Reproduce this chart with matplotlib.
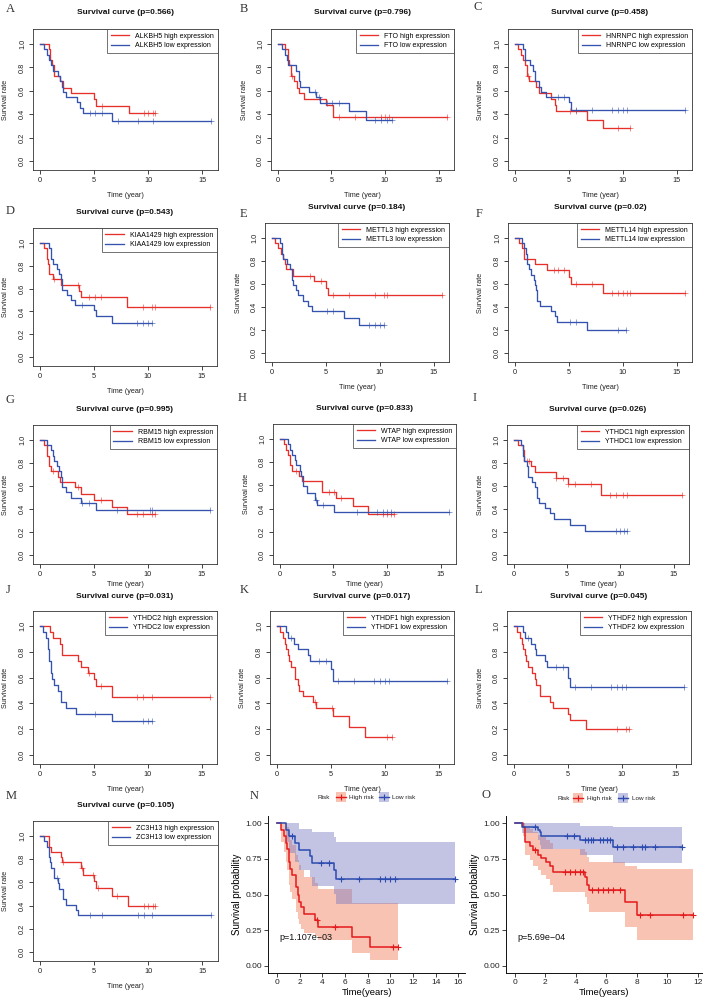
import matplotlib
matplotlib.use('Agg')
import matplotlib.pyplot as plt
from matplotlib.lines import Line2D
from matplotlib.patches import Rectangle

# ---------------- data ----------------
A_hi_t = [0.8, 0.93, 1.1, 1.3, 1.9, 2.1, 2.9, 5.0, 5.2, 8.2]
A_hi_s = [0.955, 0.864, 0.818, 0.727, 0.682, 0.627, 0.578, 0.527, 0.474, 0.406]
A_hi_c = [5.7, 9.6, 10.0, 10.4, 10.65]
A_lo_t = [0.4, 0.7, 0.87, 1.0, 1.2, 1.65, 1.85, 2.0, 2.1, 2.4, 3.4, 3.75, 3.95, 6.7]
A_lo_s = [0.955, 0.909, 0.864, 0.818, 0.773, 0.727, 0.682, 0.636, 0.591, 0.545, 0.5, 0.455, 0.409, 0.341]
A_lo_c = [4.6, 5.1, 5.7, 7.2, 9.05, 10.4, 15.75]

B_hi_t = [0.7, 0.93, 1.08, 1.23, 1.54, 1.76, 1.94, 2.4, 4.5, 5.17]
B_hi_s = [0.955, 0.864, 0.818, 0.727, 0.682, 0.627, 0.578, 0.533, 0.48, 0.377]
B_hi_c = [1.35, 5.7, 7.2, 9.6, 10.0, 10.4, 15.75]
B_lo_t = [0.35, 0.7, 0.83, 1.0, 1.7, 1.94, 2.1, 2.9, 3.6, 3.9, 6.66, 8.22]
B_lo_s = [0.955, 0.909, 0.864, 0.818, 0.773, 0.682, 0.636, 0.591, 0.545, 0.495, 0.424, 0.353]
B_lo_c = [3.5, 3.8, 4.6, 5.1, 5.7, 9.05, 9.6, 10.2, 10.65]

C_hi_t = [0.32, 0.62, 0.76, 0.93, 1.1, 1.3, 2.0, 2.2, 3.4, 3.7, 3.85, 6.66, 8.22]
C_hi_s = [0.955, 0.909, 0.864, 0.818, 0.727, 0.682, 0.636, 0.582, 0.533, 0.478, 0.425, 0.354, 0.283]
C_hi_c = [1.25, 5.1, 5.7, 9.6, 10.65]
C_lo_t = [0.8, 0.9, 1.4, 1.65, 1.9, 2.2, 2.4, 2.9, 5.0, 5.2]
C_lo_s = [0.955, 0.864, 0.818, 0.773, 0.682, 0.636, 0.591, 0.545, 0.5, 0.435]
C_lo_c = [4.0, 4.6, 5.7, 7.2, 9.05, 9.6, 10.0, 10.4, 15.75]

D_hi_t = [0.35, 0.65, 0.77, 0.86, 1.27, 2.0, 3.65, 3.8, 8.1]
D_hi_s = [0.955, 0.864, 0.818, 0.727, 0.682, 0.633, 0.58, 0.525, 0.437]
D_hi_c = [1.3, 3.5, 4.6, 5.1, 5.7, 9.6, 10.4, 10.65, 15.75]
D_lo_t = [0.86, 1.0, 1.2, 1.6, 1.8, 1.95, 2.1, 2.5, 2.9, 3.3, 5.0, 5.2, 6.7]
D_lo_s = [0.955, 0.864, 0.818, 0.773, 0.727, 0.682, 0.59, 0.545, 0.5, 0.455, 0.41, 0.364, 0.30]
D_lo_c = [3.95, 9.05, 9.6, 10.0, 10.4]

E_hi_t = [0.3, 0.6, 0.84, 1.0, 1.2, 1.3, 2.0, 3.9, 5.0, 5.2]
E_hi_s = [0.955, 0.909, 0.864, 0.818, 0.773, 0.727, 0.673, 0.625, 0.568, 0.5]
E_hi_c = [3.55, 4.6, 5.7, 7.2, 9.6, 10.4, 10.65, 15.75]
E_lo_t = [0.77, 0.93, 1.08, 1.4, 1.7, 1.86, 2.0, 2.2, 2.4, 2.9, 3.4, 3.7, 6.65, 8.1]
E_lo_s = [0.955, 0.864, 0.818, 0.773, 0.727, 0.636, 0.591, 0.545, 0.5, 0.455, 0.409, 0.364, 0.303, 0.243]
E_lo_c = [5.1, 5.7, 9.05, 9.6, 10.0, 10.4]

F_hi_t = [0.4, 0.7, 0.84, 1.86, 2.95, 5.05, 5.2, 8.2]
F_hi_s = [0.955, 0.909, 0.818, 0.773, 0.724, 0.66, 0.60, 0.525]
F_hi_c = [1.15, 3.6, 4.0, 4.6, 5.7, 7.2, 9.05, 9.6, 10.0, 10.4, 10.65, 15.75]
F_lo_t = [0.7, 0.84, 1.0, 1.15, 1.33, 1.46, 1.77, 1.9, 2.0, 2.1, 2.3, 3.35, 3.7, 3.9, 6.7]
F_lo_s = [0.955, 0.909, 0.864, 0.773, 0.727, 0.682, 0.636, 0.591, 0.545, 0.455, 0.409, 0.364, 0.318, 0.267, 0.203]
F_lo_c = [5.1, 5.7, 9.6, 10.3]

G_hi_t = [0.4, 0.65, 0.86, 1.0, 1.7, 1.9, 3.3, 3.8, 5.0, 6.7, 8.1]
G_hi_s = [0.955, 0.864, 0.773, 0.727, 0.682, 0.633, 0.59, 0.53, 0.474, 0.415, 0.358]
G_hi_c = [1.2, 3.5, 5.7, 9.05, 9.6, 10.4, 10.65]
G_lo_t = [0.7, 1.0, 1.2, 1.33, 1.55, 1.8, 1.95, 2.1, 2.4, 2.9, 3.8, 5.2]
G_lo_s = [0.955, 0.909, 0.864, 0.818, 0.773, 0.727, 0.682, 0.591, 0.545, 0.5, 0.455, 0.39]
G_lo_c = [3.95, 4.6, 7.2, 10.2, 10.4, 15.75]

H_hi_t = [0.4, 0.62, 0.78, 0.93, 1.1, 1.77, 2.1, 3.9, 5.2, 6.8, 8.2]
H_hi_s = [0.955, 0.909, 0.864, 0.773, 0.727, 0.682, 0.636, 0.545, 0.49, 0.42, 0.355]
H_hi_c = [1.55, 4.6, 5.1, 5.7, 9.6, 10.0, 10.4, 10.65]
H_lo_t = [0.78, 1.0, 1.15, 1.4, 1.5, 1.86, 2.0, 2.2, 2.5, 3.3, 3.5, 5.06]
H_lo_s = [0.955, 0.909, 0.864, 0.818, 0.773, 0.727, 0.682, 0.591, 0.532, 0.478, 0.435, 0.37]
H_lo_c = [3.4, 4.0, 7.2, 9.05, 9.6, 10.0, 10.4, 15.75]

I_hi_t = [0.37, 0.84, 1.0, 1.6, 2.0, 3.95, 5.05, 8.2]
I_hi_s = [0.955, 0.909, 0.818, 0.773, 0.72, 0.67, 0.62, 0.525]
I_hi_c = [1.25, 1.45, 4.0, 4.6, 5.1, 5.7, 7.2, 9.05, 9.6, 10.2, 10.65, 15.75]
I_lo_t = [0.7, 0.84, 1.0, 1.2, 1.37, 1.7, 2.0, 2.15, 2.4, 2.95, 3.4, 3.8, 5.25, 6.7]
I_lo_s = [0.955, 0.864, 0.818, 0.773, 0.682, 0.636, 0.591, 0.5, 0.455, 0.409, 0.364, 0.313, 0.26, 0.21]
I_lo_c = [9.6, 10.0, 10.3, 10.65]

J_hi_t = [0.9, 1.2, 1.9, 2.1, 3.5, 3.8, 4.5, 5.0, 5.2, 6.7]
J_hi_s = [0.955, 0.909, 0.864, 0.773, 0.727, 0.682, 0.636, 0.591, 0.536, 0.45]
J_hi_c = [4.6, 5.7, 9.05, 9.6, 10.4, 15.75]
J_lo_t = [0.32, 0.62, 0.76, 0.88, 1.02, 1.15, 1.35, 1.7, 1.95, 2.4, 3.4, 6.7]
J_lo_s = [0.955, 0.909, 0.818, 0.727, 0.636, 0.591, 0.545, 0.5, 0.409, 0.364, 0.318, 0.265]
J_lo_c = [5.1, 9.6, 10.0, 10.4]

K_hi_t = [0.32, 0.62, 0.76, 0.88, 1.02, 1.15, 1.35, 1.7, 1.95, 2.1, 2.4, 3.4, 3.6, 5.2, 6.66, 8.22]
K_hi_s = [0.955, 0.909, 0.864, 0.818, 0.773, 0.727, 0.682, 0.591, 0.545, 0.5, 0.455, 0.409, 0.364, 0.30, 0.214, 0.143]
K_hi_c = [3.5, 5.1, 10.2, 10.65]
K_lo_t = [0.82, 1.06, 1.56, 1.94, 2.88, 3.08, 5.0, 5.17]
K_lo_s = [0.955, 0.909, 0.864, 0.818, 0.773, 0.727, 0.67, 0.57]
K_lo_c = [1.3, 3.9, 4.6, 5.7, 7.2, 9.05, 9.6, 10.0, 10.4, 15.75]

L_hi_t = [0.32, 0.62, 0.76, 0.88, 1.02, 1.15, 1.35, 1.7, 1.95, 2.1, 2.4, 3.4, 3.6, 5.0, 5.2, 6.66]
L_hi_s = [0.955, 0.909, 0.864, 0.818, 0.773, 0.727, 0.682, 0.636, 0.591, 0.545, 0.455, 0.41, 0.364, 0.318, 0.27, 0.20]
L_hi_c = [9.6, 10.4, 10.65]
L_lo_t = [0.82, 1.06, 1.56, 1.94, 2.1, 2.88, 3.08, 5.0, 5.17]
L_lo_s = [0.955, 0.909, 0.864, 0.818, 0.773, 0.727, 0.682, 0.6, 0.53]
L_lo_c = [1.3, 3.9, 4.6, 5.7, 7.2, 9.05, 9.6, 10.0, 10.4, 15.75]

M_hi_t = [0.86, 1.0, 1.94, 2.03, 3.8, 3.95, 5.0, 5.2, 6.65, 8.1]
M_hi_s = [0.909, 0.864, 0.818, 0.773, 0.72, 0.668, 0.61, 0.548, 0.483, 0.40]
M_hi_c = [2.1, 3.9, 4.9, 5.4, 7.1, 9.6, 10.0, 10.4, 10.65]
M_lo_t = [0.35, 0.65, 0.8, 0.92, 1.07, 1.3, 1.7, 1.8, 2.1, 2.4, 3.3, 3.5]
M_lo_s = [0.955, 0.909, 0.818, 0.773, 0.727, 0.636, 0.591, 0.545, 0.455, 0.409, 0.364, 0.318]
M_lo_c = [1.6, 4.6, 5.7, 9.05, 9.6, 10.3, 15.75]

# risk model panels (with 95% CI)
N_hi_t = [0.32, 0.62, 0.76, 0.88, 1.02, 1.15, 1.35, 1.7, 1.85, 1.95, 2.1, 2.4, 3.38, 3.6, 6.66, 8.22]
N_hi_s = [0.955, 0.91, 0.86, 0.82, 0.73, 0.68, 0.64, 0.55, 0.50, 0.45, 0.41, 0.36, 0.32, 0.27, 0.20, 0.135]
N_hi_lo = [0.87, 0.80, 0.73, 0.67, 0.57, 0.52, 0.47, 0.38, 0.33, 0.29, 0.26, 0.23, 0.21, 0.18, 0.09, 0.04]
N_hi_up = [1.0, 1.0, 1.0, 0.97, 0.92, 0.88, 0.85, 0.78, 0.74, 0.71, 0.67, 0.62, 0.58, 0.54, 0.44, 0.44]
N_hi_c = [3.5, 5.1, 10.2, 10.65]
N_lo_t = [0.82, 1.06, 1.56, 1.94, 2.88, 3.08, 5.0, 5.17]
N_lo_s = [0.955, 0.91, 0.86, 0.81, 0.77, 0.72, 0.67, 0.61]
N_lo_lo = [0.87, 0.79, 0.73, 0.67, 0.62, 0.56, 0.50, 0.43]
N_lo_up = [1.0, 1.0, 1.0, 0.96, 0.96, 0.94, 0.90, 0.87]
N_lo_c = [1.3, 3.9, 4.6, 5.67, 7.2, 9.05, 9.57, 9.98, 10.4, 15.74]

O_hi_t = [0.55, 0.66, 0.99, 1.16, 1.53, 1.7, 2.04, 2.3, 2.52, 4.6, 4.72, 4.85, 7.2, 8.0]
O_hi_s = [0.97, 0.87, 0.84, 0.81, 0.78, 0.755, 0.73, 0.70, 0.657, 0.62, 0.57, 0.535, 0.445, 0.357]
O_hi_lo = [0.91, 0.78, 0.74, 0.70, 0.67, 0.64, 0.61, 0.57, 0.52, 0.48, 0.43, 0.38, 0.275, 0.18]
O_hi_up = [1.0, 0.97, 0.96, 0.94, 0.92, 0.90, 0.88, 0.86, 0.82, 0.80, 0.76, 0.73, 0.70, 0.68]
O_hi_c = [1.3, 3.28, 3.61, 3.94, 4.27, 4.49, 5.04, 5.47, 5.8, 6.13, 6.46, 6.9, 8.21, 8.87, 11.06, 11.67]
O_lo_t = [0.44, 1.49, 1.64, 1.71, 4.27, 6.42]
O_lo_s = [0.974, 0.953, 0.935, 0.91, 0.883, 0.836]
O_lo_lo = [0.93, 0.88, 0.85, 0.82, 0.78, 0.72]
O_lo_up = [1.0, 1.0, 1.0, 1.0, 0.98, 0.97]
O_lo_c = [1.31, 3.44, 3.88, 4.6, 4.82, 4.97, 5.15, 5.58, 5.8, 6.02, 6.24, 6.68, 7.12, 7.78, 8.32, 8.54, 9.2, 10.95]

genes = ['ALKBH5', 'FTO', 'HNRNPC', 'KIAA1429', 'METTL3', 'METTL14', 'RBM15',
         'WTAP', 'YTHDC1', 'YTHDC2', 'YTHDF1', 'YTHDF2', 'ZC3H13']
pvals = ['0.566', '0.796', '0.458', '0.543', '0.184', '0.02', '0.995',
         '0.833', '0.026', '0.031', '0.017', '0.045', '0.105']
letters = list('ABCDEFGHIJKLMNO')
r_xticks = [0, 5, 10, 15]
r_yticks = [0.0, 0.2, 0.4, 0.6, 0.8, 1.0]
N_pval = 'p=1.107e\u221203'
O_pval = 'p=5.69e\u221204'

# ---------------- layout ----------------
W, H = 708, 997
plt.rcParams['font.family'] = ['Liberation Sans', 'DejaVu Sans']
fig = plt.figure(figsize=(W / 100, H / 100), dpi=100)

over = fig.add_axes([0, 0, 1, 1], zorder=10)
over.set_xlim(0, W)
over.set_ylim(H, 0)
over.axis('off')
over.patch.set_alpha(0)


def add_ax(l, t, r, b):
    return fig.add_axes([l / W, 1 - b / H, (r - l) / W, (b - t) / H])


def step_val(t, s, x):
    v = 1.0
    for ti, si in zip(t, s):
        if ti <= x:
            v = si
    return v


RED = '#E5312A'
BLUE = '#3452AE'

r_boxes = [(33, 29, 218, 170), (271, 29, 454, 170), (508, 29, 692, 170),
           (33, 228, 217, 366), (265, 223, 449, 362), (508, 223, 692, 362),
           (33, 425, 217, 564), (273, 424, 456, 564), (507, 425, 689, 564),
           (33, 611, 217, 764), (270, 611, 454, 764), (507, 611, 691, 764),
           (33, 821, 218, 961)]
xlab_off = [25, 25, 25, 25, 25, 25, 20, 20, 20, 25, 25, 25, 25]
title_off = [16, 16, 16, 16, 16, 16, 16, 16, 16, 15, 15, 15, 16]
letter_pos = [(6, 9), (240, 9), (474, 7), (6, 211), (240, 214), (476, 214),
              (6, 400), (238, 398), (473, 398), (6, 590), (240, 590), (475, 590),
              (6, 796), (250, 796), (482, 795)]

r_data = [(A_hi_t, A_hi_s, A_hi_c, A_lo_t, A_lo_s, A_lo_c),
          (B_hi_t, B_hi_s, B_hi_c, B_lo_t, B_lo_s, B_lo_c),
          (C_hi_t, C_hi_s, C_hi_c, C_lo_t, C_lo_s, C_lo_c),
          (D_hi_t, D_hi_s, D_hi_c, D_lo_t, D_lo_s, D_lo_c),
          (E_hi_t, E_hi_s, E_hi_c, E_lo_t, E_lo_s, E_lo_c),
          (F_hi_t, F_hi_s, F_hi_c, F_lo_t, F_lo_s, F_lo_c),
          (G_hi_t, G_hi_s, G_hi_c, G_lo_t, G_lo_s, G_lo_c),
          (H_hi_t, H_hi_s, H_hi_c, H_lo_t, H_lo_s, H_lo_c),
          (I_hi_t, I_hi_s, I_hi_c, I_lo_t, I_lo_s, I_lo_c),
          (J_hi_t, J_hi_s, J_hi_c, J_lo_t, J_lo_s, J_lo_c),
          (K_hi_t, K_hi_s, K_hi_c, K_lo_t, K_lo_s, K_lo_c),
          (L_hi_t, L_hi_s, L_hi_c, L_lo_t, L_lo_s, L_lo_c),
          (M_hi_t, M_hi_s, M_hi_c, M_lo_t, M_lo_s, M_lo_c)]


def r_panel(box, gene, p, data, xoff, toff):
    l, t, r, b = box
    ax = add_ax(l, t, r, b)
    span = (b - t) - 24
    ax.set_ylim(-9 / span, 1 + 15 / span)
    ax.set_xlim(-0.63, 16.43)
    hi_t, hi_s, hi_c, lo_t, lo_s, lo_c = data
    for tt, ss, cc, col in ((hi_t, hi_s, hi_c, RED), (lo_t, lo_s, lo_c, BLUE)):
        end = max(list(cc) + [tt[-1]])
        xs = [0] + list(tt) + [end]
        ys = [1.0] + list(ss) + [ss[-1]]
        ax.step(xs, ys, where='post', color=col, lw=0.95)
        cy = [step_val(tt, ss, c) for c in cc]
        ax.plot(cc, cy, ls='none', marker='+', ms=4.5, mew=0.7, color=col, alpha=0.55)
    ax.set_xticks(r_xticks)
    ax.set_yticks(r_yticks)
    ax.set_yticklabels([f'{v:.1f}' for v in r_yticks], rotation=90, va='center')
    ax.tick_params(direction='out', length=3, width=0.6, labelsize=5.3, pad=2,
                   colors='#222222')
    for sp in ax.spines.values():
        sp.set_linewidth(0.6)
        sp.set_color('#333333')
    handles = [Line2D([], [], color=RED, lw=0.95), Line2D([], [], color=BLUE, lw=0.95)]
    leg = ax.legend(handles, [f'{gene} high expression', f'{gene} low expression'],
                    loc='upper right', bbox_to_anchor=(1, 1), borderaxespad=0,
                    frameon=True, fancybox=False, fontsize=5, handlelength=2.6,
                    handletextpad=0.9, borderpad=0.55, labelspacing=0.35)
    leg.get_frame().set_edgecolor('#333333')
    leg.get_frame().set_linewidth(0.6)
    over.text((l + r) / 2, t - toff, f'Survival curve (p={p})', ha='center', va='center',
              fontsize=6, fontweight='bold', color='#111111')
    over.text(l - 27, (t + b) / 2, 'Survival rate', rotation=90, ha='center',
              va='center', fontsize=5.2, color='#222222')
    over.text((l + r) / 2, b + xoff, 'Time (year)', ha='center', va='center',
              fontsize=5.2, color='#222222')


for i in range(13):
    r_panel(r_boxes[i], genes[i], pvals[i], r_data[i], xlab_off[i], title_off[i])

# ---------------- ggplot-like risk panels ----------------
GRED = '#E41A1C'
GBLUE = '#2B4BAF'
FRED = '#F07A55'
FBLUE = '#7B7BC4'


def gg_panel(box, xlim, xticks, pstr, hi, lo, legend_x):
    l, t, r, b = box
    ax = add_ax(l, t, r, b)
    ax.set_xlim(*xlim)
    ax.set_ylim(-0.05, 1.05)
    for (tt, ss, lw_, up, cc), fcol in ((hi, FRED), (lo, FBLUE)):
        end = max(list(cc) + [tt[-1]])
        xs = [0] + list(tt) + [end]
        los = [1.0] + list(lw_) + [lw_[-1]]
        ups = [1.0] + list(up) + [up[-1]]
        ax.fill_between(xs, los, ups, step='post', color=fcol, alpha=0.45, lw=0)
    for (tt, ss, lw_, up, cc), col in ((hi, GRED), (lo, GBLUE)):
        end = max(list(cc) + [tt[-1]])
        xs = [0] + list(tt) + [end]
        ys = [1.0] + list(ss) + [ss[-1]]
        ax.step(xs, ys, where='post', color=col, lw=1.1)
        cy = [step_val(tt, ss, c) for c in cc]
        ax.plot(cc, cy, ls='none', marker='+', ms=4.5, mew=0.8, color=col)
    ax.set_xticks(xticks)
    ax.set_yticks([0, 0.25, 0.5, 0.75, 1.0])
    ax.set_yticklabels(['0.00', '0.25', '0.50', '0.75', '1.00'])
    ax.tick_params(direction='out', length=3, width=0.6, labelsize=6, pad=1.5,
                   colors='#222222')
    ax.spines['top'].set_visible(False)
    ax.spines['right'].set_visible(False)
    for s in ('left', 'bottom'):
        ax.spines[s].set_linewidth(0.7)
        ax.spines[s].set_color('#111111')
    ax.set_ylabel('Survival probability', fontsize=7, labelpad=2)
    ax.set_xlabel('Time(years)', fontsize=6.8, labelpad=1)
    ax.text(0.06, 0.21, pstr, transform=ax.transAxes, fontsize=6.5, color='#111111')
    # legend
    lx_risk, lx_k1, lx_t1, lx_k2, lx_t2, ly = legend_x
    over.text(lx_risk, ly, 'Risk', fontsize=4.6, ha='left', va='center', color='#222222')
    for kx, tx, lab, col, fcol in ((lx_k1, lx_t1, 'High risk', GRED, FRED),
                                   (lx_k2, lx_t2, 'Low risk', GBLUE, FBLUE)):
        over.add_patch(Rectangle((kx - 5, ly - 5), 10, 10, facecolor=fcol, alpha=0.45, lw=0))
        over.plot([kx - 5, kx + 5], [ly, ly], color=col, lw=1.0)
        over.plot([kx], [ly], marker='+', ms=4, mew=0.8, color=col)
        over.text(tx, ly, lab, fontsize=4.6, ha='left', va='center', color='#222222')


gg_panel((268, 816, 465, 973), (-0.8, 16.6), list(range(0, 17, 2)), N_pval,
         (N_hi_t, N_hi_s, N_hi_lo, N_hi_up, N_hi_c),
         (N_lo_t, N_lo_s, N_lo_lo, N_lo_up, N_lo_c),
         (318, 341, 349, 384, 392, 797))
gg_panel((506, 816, 702, 973), (-0.585, 12.29), list(range(0, 13, 2)), O_pval,
         (O_hi_t, O_hi_s, O_hi_lo, O_hi_up, O_hi_c),
         (O_lo_t, O_lo_s, O_lo_lo, O_lo_up, O_lo_c),
         (557, 578, 587, 623, 632, 798))

for (x, y), lt in zip(letter_pos, letters):
    over.text(x, y, lt, fontsize=9, family=['Liberation Serif', 'DejaVu Serif'],
              ha='left', va='center', color='#333333')

fig.savefig('out.png', dpi=100)
